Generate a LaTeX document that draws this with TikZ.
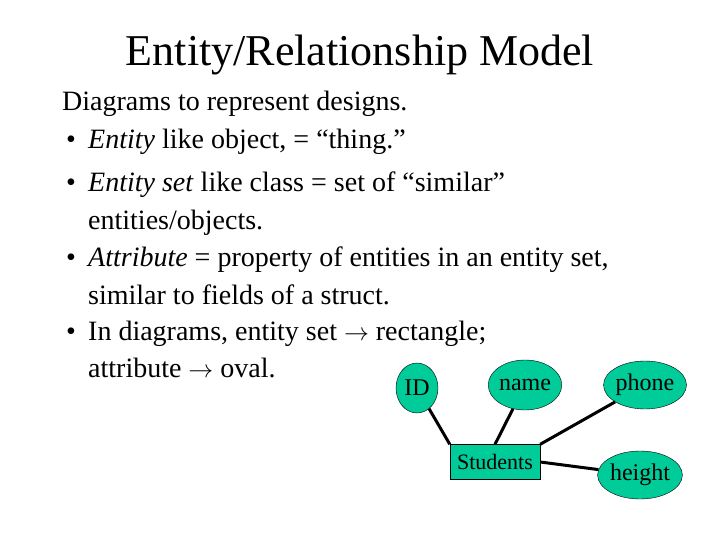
\documentclass[tikz,border=0pt]{standalone}
\usepackage{fontspec}
\setmainfont{Liberation Serif}
\usetikzlibrary{shapes.geometric}
\definecolor{erfill}{RGB}{0,204,153}
\begin{document}
\begin{tikzpicture}
  [x=1pt, y=-1pt, font=\fontsize{28}{32}\selectfont,
   line/.style={anchor=west, inner sep=0pt},
   attr/.style={ellipse, draw, fill=erfill, inner sep=0pt, font=\fontsize{24}{28}\selectfont},
   link/.style={line width=3pt}]
  \useasboundingbox (0,0) rectangle (720,540);
  \node (title) [font=\fontsize{44}{50}\selectfont] at (360,55) {Entity/Relationship Model};

  \node (l1) [line] at (62,104) {Diagrams to represent designs.};
  \foreach \y [count=\i] in {142,185,260,334}
    \node (b\i) [line] at (66,\y) {\textbullet};
  \node (l2) [line] at (88,142) {\textit{Entity} like object, = “thing.”};
  \node (l3) [line] at (88,185) {\textit{Entity set} like class = set of “similar”};
  \node (l4) [line] at (88,223) {entities/objects.};
  \node (l5) [line] at (88,260) {\textit{Attribute} = property of entities in an entity set,};
  \node (l6) [line] at (88,295) {similar to fields of a struct.};
  \node (l7) [line] at (88,334) {In diagrams, entity set $\rightarrow$ rectangle;};
  \node (l8) [line] at (88,368) {attribute $\rightarrow$ oval.};

  \node (students) [draw, fill=erfill, minimum width=90pt, minimum height=35pt,
    inner sep=0pt, font=\fontsize{22}{26}\selectfont] at (495,462) {Students};
  \node (id) [attr, minimum width=42pt, minimum height=50pt] at (417,388) {ID};
  \node (name) [attr, minimum width=54pt, minimum height=50pt] at (525,385) {name};
  \node (phone) [attr, minimum width=60pt, minimum height=48pt] at (645,385) {phone};
  \node (height) [attr, minimum width=66pt, minimum height=48pt] at (640,475) {height};

  \draw [link] (id) -- (students.north west);
  \draw [link] (name) -- (students.north);
  \draw [link] (phone) -- (students.north east);
  \draw [link] (height) -- (students.east);
\end{tikzpicture}
\end{document}
